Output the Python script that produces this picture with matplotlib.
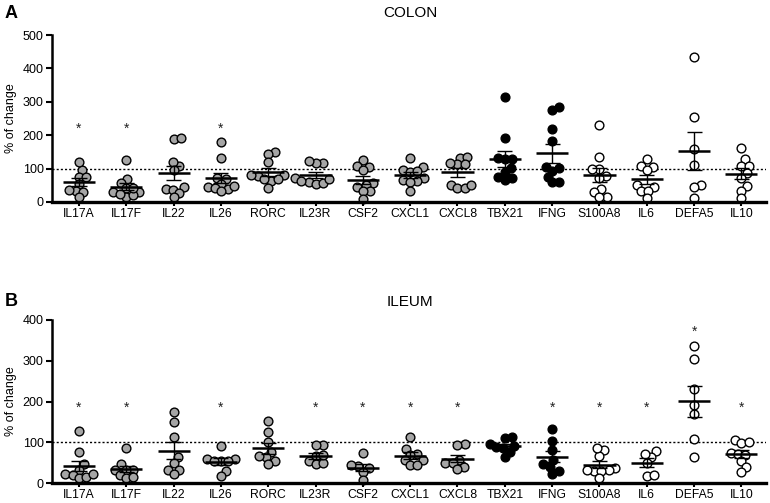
import numpy as np
import matplotlib.pyplot as plt

plt.rcParams['font.family'] = ['Liberation Sans', 'DejaVu Sans']

genes = ['IL17A', 'IL17F', 'IL22', 'IL26', 'RORC', 'IL23R', 'CSF2', 'CXCL1',
         'CXCL8', 'TBX21', 'IFNG', 'S100A8', 'IL6', 'DEFA5', 'IL10']
fill = ['#a5a5a5'] * 9 + ['black'] * 2 + ['white'] * 4

# colon, % of change per sample
colon_il17a = [96, 119, 76, 76, 54, 34, 31, 36, 14]
colon_il17f = [126, 69, 56, 41, 31, 31, 14, 21, 43, 25]
colon_il22 = [190, 192, 108, 120, 95, 45, 38, 37, 28, 15]
colon_il26 = [180, 132, 73, 70, 55, 45, 43, 40, 32, 48]
colon_rorc = [150, 145, 120, 78, 80, 82, 62, 68, 70, 42]
colon_il23r = [118, 117, 122, 72, 60, 55, 58, 68, 62]
colon_csf2 = [126, 109, 106, 95, 57, 52, 34, 44, 32, 10]
colon_cxcl1 = [131, 104, 95, 90, 92, 72, 66, 62, 60, 34]
colon_cxcl8 = [133, 136, 113, 113, 118, 51, 41, 41, 51]
colon_tbx21 = [313, 191, 128, 133, 128, 101, 91, 76, 66, 71]
colon_ifng = [275, 285, 219, 184, 101, 106, 94, 76, 59, 59]
colon_s100a8 = [231, 134, 99, 99, 78, 71, 38, 31, 16, 16]
colon_il6 = [128, 109, 106, 96, 51, 44, 34, 32, 11]
colon_defa5 = [433, 255, 159, 111, 51, 46, 13]
colon_il10 = [161, 128, 109, 109, 88, 73, 48, 34, 11]

# ileum, % of change per sample
ileum_il17a = [127, 75, 46, 33, 23, 20, 12, 14, 22]
ileum_il17f = [85, 46, 33, 33, 33, 19, 13, 15]
ileum_il22 = [174, 150, 114, 63, 50, 33, 33, 21]
ileum_il26 = [91, 60, 60, 54, 55, 54, 29, 17]
ileum_rorc = [151, 124, 101, 77, 63, 67, 54, 46]
ileum_il23r = [93, 93, 66, 54, 46, 48, 68]
ileum_csf2 = [73, 41, 44, 36, 27, 7]
ileum_cxcl1 = [114, 83, 71, 69, 56, 56, 44, 44]
ileum_cxcl8 = [95, 93, 56, 50, 48, 40, 35]
ileum_tbx21 = [114, 110, 96, 91, 88, 85, 77, 64]
ileum_ifng = [133, 103, 81, 56, 46, 40, 30, 23]
ileum_s100a8 = [81, 67, 85, 36, 29, 31, 29, 33, 12]
ileum_il6 = [78, 64, 71, 50, 17, 19]
ileum_defa5 = [337, 304, 231, 192, 169, 107, 63]
ileum_il10 = [106, 98, 100, 73, 70, 69, 54, 40, 27]

colon_values = [colon_il17a, colon_il17f, colon_il22, colon_il26, colon_rorc,
                colon_il23r, colon_csf2, colon_cxcl1, colon_cxcl8, colon_tbx21,
                colon_ifng, colon_s100a8, colon_il6, colon_defa5, colon_il10]
ileum_values = [ileum_il17a, ileum_il17f, ileum_il22, ileum_il26, ileum_rorc,
                ileum_il23r, ileum_csf2, ileum_cxcl1, ileum_cxcl8, ileum_tbx21,
                ileum_ifng, ileum_s100a8, ileum_il6, ileum_defa5, ileum_il10]

colon_stars = ['IL17A', 'IL17F', 'IL26']
ileum_stars = ['IL17A', 'IL17F', 'IL26', 'IL23R', 'CSF2', 'CXCL1', 'CXCL8',
               'IFNG', 'S100A8', 'IL6', 'DEFA5', 'IL10']


def swarm(values, xscale, yscale, diam):
    '''Beeswarm offsets (data units along x) so that markers do not overlap.'''
    ys = np.asarray(values, float) * yscale
    xs = np.zeros(len(ys))
    placed = []
    for i in np.argsort(ys):
        cands = [0.0]
        for px, py in placed:
            dy = ys[i] - py
            if abs(dy) < diam:
                dx = np.sqrt(diam ** 2 - dy ** 2)
                cands += [px + dx, px - dx]
        ok = []
        for c in cands:
            if all((c - px) ** 2 + (ys[i] - py) ** 2 >= diam ** 2 - 1e-6 for px, py in placed):
                ok.append(c)
        best = min(ok, key=lambda c: (abs(c), -c))
        xs[i] = best
        placed.append((best, ys[i]))
    return xs / xscale


def panel(fig, rect, values, stars, star_y, ymax, title, letter, title_y):
    ax = fig.add_axes(rect)
    ax.set_xlim(-0.57, 14.52)
    ax.set_ylim(0, ymax)
    bb = ax.get_position()
    xscale = bb.width * fig.get_figwidth() * fig.dpi / 15.09
    yscale = bb.height * fig.get_figheight() * fig.dpi / ymax

    ax.axhline(100, color='black', ls=(0, (1.5, 1.5)), lw=1.0, zorder=1)
    for i, vals in enumerate(values):
        offs = swarm(vals, xscale, yscale, 7.2)
        ax.plot(i + offs, vals, 'o', ms=6.3, mfc=fill[i], mec='black',
                mew=1.0, ls='none', zorder=2, clip_on=False)
        m = np.mean(vals)
        sem = np.std(vals, ddof=1) / np.sqrt(len(vals))
        ax.hlines(m, i - 0.34, i + 0.34, color='black', lw=1.8, zorder=4)
        ax.vlines(i, m - sem, m + sem, color='black', lw=1.0, zorder=4)
        ax.hlines([m - sem, m + sem], i - 0.16, i + 0.16, color='black', lw=1.0, zorder=4)
        if genes[i] in stars:
            y = star_y.get(genes[i], star_y['default'])
            ax.text(i, y, '*', ha='center', va='center', fontsize=10, color='#222222')

    ax.set_xticks(range(len(genes)))
    ax.set_xticklabels(genes, fontsize=8.7)
    ax.set_yticks(np.arange(0, ymax + 1, 100))
    ax.tick_params(axis='y', labelsize=9, length=4, width=1.5, pad=2)
    ax.tick_params(axis='x', length=3, width=1.5, pad=1.5)
    ax.spines['top'].set_visible(False)
    ax.spines['right'].set_visible(False)
    ax.spines['bottom'].set_linewidth(2.4)
    ax.spines['left'].set_linewidth(1.8)
    ax.set_ylabel('% of change', fontsize=9, labelpad=4)

    fig.text(410 / 770, 1 - title_y / 503, title, ha='center', va='center', fontsize=11)
    fig.text(11 / 770, 1 - title_y / 503, letter, ha='center', va='center',
             fontsize=13, fontweight='bold')
    return ax


fig = plt.figure(figsize=(7.7, 5.03), dpi=100)
panel(fig, [52 / 770, 1 - 202 / 503, 714 / 770, 167 / 503], colon_values,
      colon_stars, {'default': 220}, 500, 'COLON', 'A', 13)
panel(fig, [52 / 770, 1 - 483 / 503, 714 / 770, 163 / 503], ileum_values,
      ileum_stars, {'default': 185, 'DEFA5': 370}, 400, 'ILEUM', 'B', 302)

fig.savefig('out.png', dpi=100)
